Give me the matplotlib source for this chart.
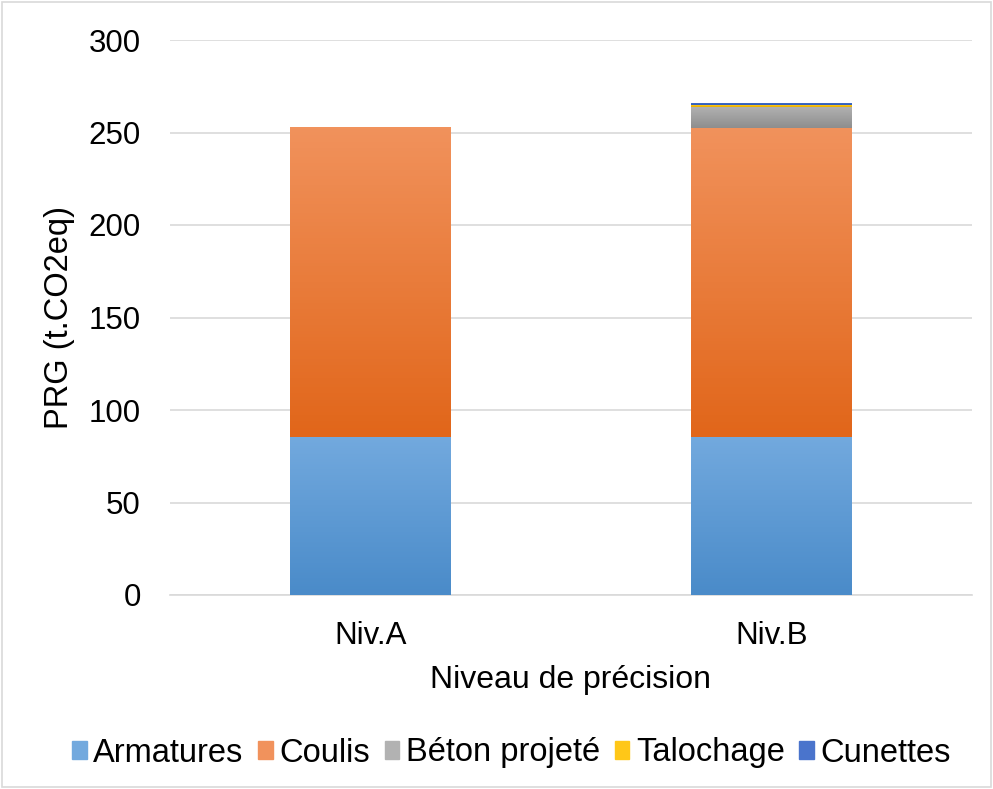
import matplotlib
matplotlib.use("Agg")
import matplotlib.pyplot as plt
import numpy as np
from matplotlib.colors import LinearSegmentedColormap
from matplotlib.patches import Rectangle

plt.rcParams['font.family'] = ['Liberation Sans', 'DejaVu Sans']

categories = ["Niv.A", "Niv.B"]
series_names = ["Armatures", "Coulis", "Béton projeté", "Talochage", "Cunettes"]
armatures = [85.4, 85.4]
coulis = [167.6, 167.2]
beton = [0.0, 11.4]
talochage = [0.0, 0.9]
cunettes = [0.0, 1.1]
values = [armatures, coulis, beton, talochage, cunettes]
yticks = [0, 50, 100, 150, 200, 250, 300]

grad = [("#4a8bc9", "#72a9de"), ("#e1661a", "#f1925c"), ("#8e8e8e", "#b2b2b2"),
        ("#e6ad00", "#ffc718"), ("#2f5dbb", "#4a74cc")]

FS = 22.5
fig = plt.figure(figsize=(9.93, 7.89), dpi=100)
ax = fig.add_axes([170/993, 1-595/789, 802/993, 555/789])
ax.set_xlim(-0.5, 1.5)
ax.set_ylim(0, 300)
x = np.arange(len(categories))
bottom = np.zeros(len(categories))
width = 0.4
for vals, (c0, c1), name in zip(values, grad, series_names):
    bars = ax.bar(x, vals, width, bottom=bottom, color=c1, label=name, zorder=2)
    cmap = LinearSegmentedColormap.from_list("g", [c0, c1])
    for b in bars:
        h = b.get_height()
        if h <= 0:
            continue
        x0, y0 = b.get_x(), b.get_y()
        im = ax.imshow(np.linspace(0, 1, 100).reshape(-1, 1), cmap=cmap, origin="lower",
                       extent=[x0, x0 + b.get_width(), y0, y0 + h], aspect="auto", zorder=3)
        im.set_clip_path(b)
    bottom += np.array(vals)
ax.set_xlim(-0.5, 1.5)
ax.set_ylim(0, 300)
ax.set_xticks(x)
ax.set_xticklabels(categories, fontsize=FS)
ax.set_yticks(yticks)
ax.tick_params(axis='y', labelsize=FS, length=0, pad=21)
ax.tick_params(axis='x', length=0, pad=19)
ax.yaxis.grid(True, color="#d9d9d9", linewidth=1.2, zorder=0)
ax.set_axisbelow(True)
for s in ["top", "right", "left"]:
    ax.spines[s].set_visible(False)
ax.spines["bottom"].set_color("#d9d9d9")
ax.spines["bottom"].set_linewidth(1.2)
ax.set_ylabel("PRG (t.CO2eq)", fontsize=23.5, labelpad=10)
ax.set_xlabel("Niveau de précision", fontsize=23, labelpad=10)

handles = [Rectangle((0, 0), 1, 1, color=c1) for (c0, c1) in grad]
leg = fig.legend(handles, series_names, loc="center", bbox_to_anchor=(0.515, 1-753/789), ncol=5,
                 frameon=False, fontsize=23.5, handlelength=0.45, handleheight=0.45,
                 handletextpad=0.2, columnspacing=0.45)

fig.patches.append(Rectangle((0.002, 0.002), 0.996, 0.996, transform=fig.transFigure,
                             fill=False, edgecolor="#d9d9d9", linewidth=1.2))
fig.savefig("out.png", dpi=100)
